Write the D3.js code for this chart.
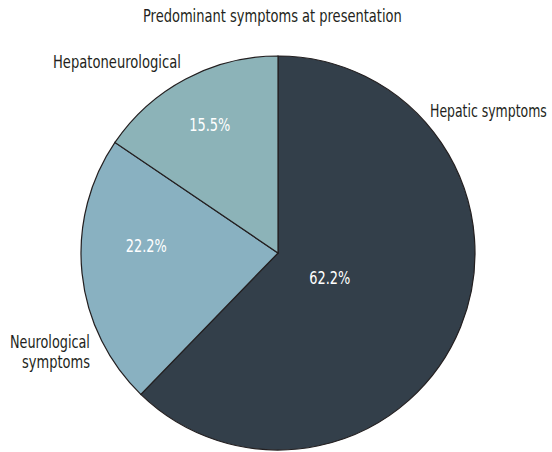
<!DOCTYPE html>
<html><head><meta charset="utf-8">
<script src="https://cdn.jsdelivr.net/npm/d3@7"></script>
<style>
body{margin:0;background:#fff;}
text{font-family:"DejaVu Sans Condensed","Liberation Sans Narrow",sans-serif;}
</style></head>
<body>
<svg id="chart" width="552" height="452"></svg>
<script>
const title = "Predominant symptoms at presentation";
const categories = ["Hepatic symptoms", "Neurological symptoms", "Hepatoneurological"];
const values = [62.2, 22.2, 15.5];
const valueLabels = ["62.2%", "22.2%", "15.5%"];
const colors = ["#333f4a", "#89b1c1", "#8cb3b8"];

const svg = d3.select("#chart");
const cx = 278, cy = 253, R = 197;

// condensed text: horizontally scaled to a target width, left edge at x
function addText(sel, txt, x, y, width, size, fill) {
  const t = sel.append("text").text(txt).attr("font-size", size).attr("fill", fill);
  const natural = t.node().getComputedTextLength();
  const s = width / natural;
  t.attr("transform", `translate(${x},${y}) scale(${s},1)`);
  return t;
}

addText(svg, title, 143, 22, 259, 17, "#231f20");

const pie = d3.pie().sort(null).value(d => d)(values);
const arc = d3.arc().innerRadius(0).outerRadius(R);
const g = svg.append("g").attr("transform", `translate(${cx},${cy})`);
g.selectAll("path").data(pie).join("path")
  .attr("d", arc).attr("fill", (d, i) => colors[i])
  .attr("stroke", "#231f20").attr("stroke-width", 1.2);

// percentage labels: radial fraction and angle shift (radians)
const pctR = [0.29, 0.67, 0.74];
const pctShift = [0.05, 0.16, 0.0];
pie.forEach((d, i) => {
  const a = (d.startAngle + d.endAngle) / 2 + pctShift[i];
  const r = R * pctR[i];
  const x = Math.sin(a) * r, y = -Math.cos(a) * r;
  addText(g, valueLabels[i], x - 20.5, y + 7, 41, 18, "#ffffff");
});

// category labels outside
const outer = [
  {lines: ["Hepatic symptoms"], widths: [117], pos: [430, 117], anchor: "start"},
  {lines: ["Neurological", "symptoms"], widths: [80, 68], pos: [90, 348], anchor: "end"},
  {lines: ["Hepatoneurological"], widths: [128], pos: [53, 68], anchor: "start"}
];
outer.forEach(o => {
  o.lines.forEach((l, j) => {
    const w = o.widths[j];
    const x = o.anchor === "end" ? o.pos[0] - w : o.pos[0];
    addText(svg, l, x, o.pos[1] + j * 20, w, 18, "#231f20");
  });
});
</script>
</body></html>
